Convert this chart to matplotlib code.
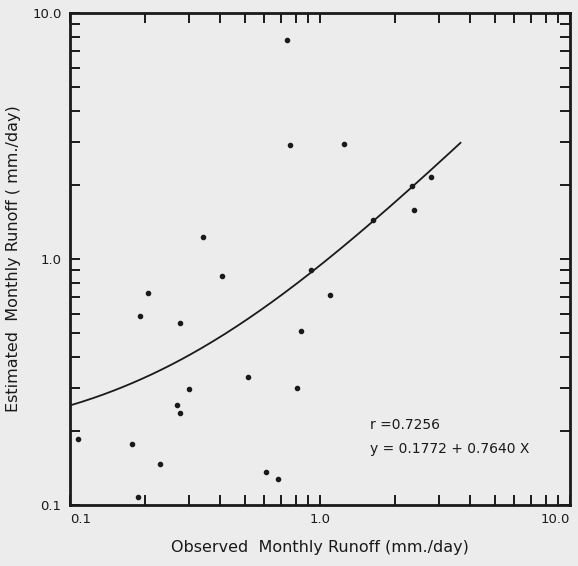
import matplotlib
matplotlib.use("Agg")
import matplotlib.pyplot as plt
import numpy as np
from matplotlib.ticker import LogLocator, NullFormatter, FixedLocator

# observed vs estimated monthly runoff (mm/day)
observed = [0.738, 0.759, 1.247, 2.78, 2.33, 2.38, 1.63, 0.340, 0.406, 0.92,
            1.096, 0.205, 0.191, 0.275, 0.839, 0.515, 0.809, 0.299, 0.268, 0.275,
            0.108, 0.177, 0.229, 0.608, 0.679, 0.187]
estimated = [7.80, 2.90, 2.93, 2.16, 1.975, 1.575, 1.44, 1.227, 0.856, 0.90,
             0.711, 0.724, 0.584, 0.549, 0.509, 0.330, 0.298, 0.295, 0.254, 0.236,
             0.186, 0.176, 0.146, 0.136, 0.127, 0.108]

# regression line as printed on the chart
fit_intercept = 0.1772
fit_slope = 0.7640
fit_r = 0.7256
fit_x_range = [0.1, 3.65]

decade_ticks = [0.1, 1.0, 10.0]
decade_labels = ["0.1", "1.0", "10.0"]

plt.rcParams["font.family"] = ["DejaVu Sans"]

fig = plt.figure(figsize=(5.78, 5.66), dpi=100, facecolor="#ececec")
ax = fig.add_axes([0.121, 0.108, 0.865, 0.869])
ax.set_facecolor("#ececec")

xs = np.geomspace(fit_x_range[0], fit_x_range[1], 200)
ax.plot(xs, fit_intercept + fit_slope * xs, color="#1a1a1a", linewidth=1.3)
ax.plot(observed, estimated, "o", color="#1a1a1a", markersize=3.0, linestyle="none")

ax.set_xscale("log")
ax.set_yscale("log")
ax.set_xlim(0.1, 10.0)
ax.set_ylim(0.1, 10.0)

for axis in (ax.xaxis, ax.yaxis):
    axis.set_major_locator(FixedLocator(decade_ticks))
    axis.set_minor_locator(LogLocator(base=10, subs=np.arange(2, 10)))
    axis.set_minor_formatter(NullFormatter())
ax.set_xticklabels(decade_labels)
ax.set_yticklabels(decade_labels)

ax.tick_params(which="both", direction="in", top=True, right=True,
               color="#1a1a1a", width=1.4, labelsize=9.5, labelcolor="#1a1a1a")
ax.tick_params(which="major", length=7, pad=6)
ax.tick_params(which="minor", length=7)
labels = ax.get_xticklabels()
labels[0].set_horizontalalignment("left")
labels[-1].set_horizontalalignment("right")

for spine in ax.spines.values():
    spine.set_linewidth(2.0)
    spine.set_color("#1a1a1a")

ax.set_xlabel("Observed  Monthly Runoff (mm./day)", fontsize=11.5, color="#1a1a1a", labelpad=10)
ax.set_ylabel("Estimated  Monthly Runoff ( mm./day)", fontsize=11.5, color="#1a1a1a", labelpad=8)

ax.text(0.6, 0.155, f"r ={fit_r:.4f}", transform=ax.transAxes, fontsize=10, color="#1a1a1a")
ax.text(0.6, 0.105, f"y = {fit_intercept:.4f} + {fit_slope:.4f} X",
        transform=ax.transAxes, fontsize=10, color="#1a1a1a")

fig.savefig("out.png", dpi=100, facecolor=fig.get_facecolor())
